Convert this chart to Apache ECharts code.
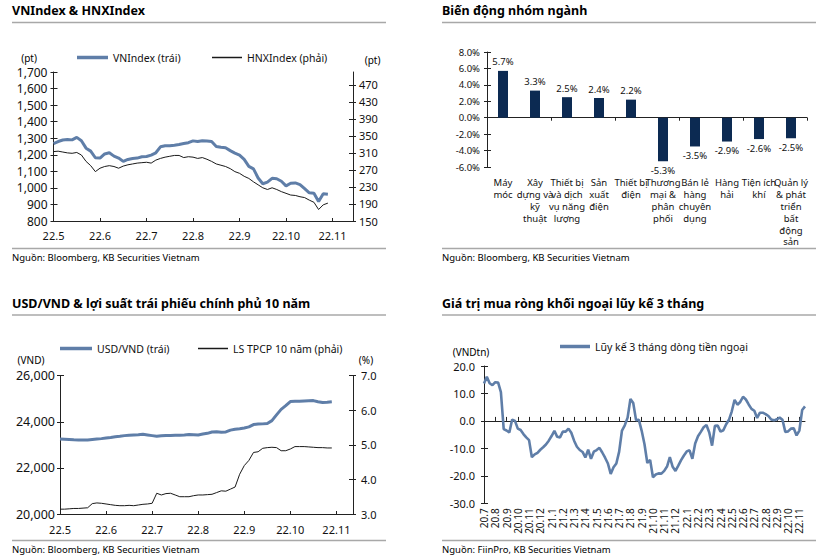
<!DOCTYPE html>
<html><head><meta charset="utf-8">
<script src="https://cdn.jsdelivr.net/npm/echarts@6/dist/echarts.min.js"></script>
<style>html,body{margin:0;padding:0;background:#fff}#c{width:821px;height:556px}</style>
</head><body><div id="c"></div>
<script>
// ---------- Panel 1: VNIndex & HNXIndex (samples every 0.1 month from 22.5) ----------
const p1MonthLabels = ['22.5','22.6','22.7','22.8','22.9','22.10','22.11'];
const p1RightTicks = [150,190,230,270,310,350,390,430,470];
const p1Step = 0.1;
const vnIndex = [1268,1280,1289,1292,1290,1305,1285,1240,1222,1182,
  1180,1205,1212,1192,1180,1160,1172,1178,1180,1188,
  1190,1198,1212,1248,1254,1255,1258,1262,1268,1273,
  1284,1280,1285,1283,1280,1250,1245,1242,1225,1210,
  1198,1172,1130,1115,1060,1025,1035,1058,1055,1040,
  1012,1028,1030,1020,995,970,968,918,965,962];
const hnxIndex = [313,314,312,310,309,311,305,290,280,266,
  274,278,280,278,274,279,282,284,286,287,
  288,286,293,297,300,302,304,304,299,301,
  300,297,299,295,290,284,281,278,273,266,
  262,255,250,242,235,228,224,228,224,219,
  215,211,210,207,205,199,194,177,188,192];

// ---------- Panel 2: sector performance ----------
const sectorCategories = ['Máy\nmóc','Xây\ndựng và\nkỹ\nthuật','Thiết bị\nvà dịch\nvụ năng\nlượng','Sản\nxuất\nđiện','Thiết bị\nđiện',
  'Thương\nmại &\nphân\nphối','Bán lẻ\nhàng\nchuyên\ndụng','Hàng\nhải','Tiện ích\nkhí','Quản lý\n& phát\ntriển\nbất\nđộng\nsản'];
const sectorChange = [5.7,3.3,2.5,2.4,2.2,-5.3,-3.5,-2.9,-2.6,-2.5];

// ---------- Panel 3: USD/VND & 10y government bond yield (every 0.1 month from 22.5) ----------
const p3MonthLabels = ['22.5','22.6','22.7','22.8','22.9','22.10','22.11'];
const p3Step = 0.1;
const usdVnd = [23250,23240,23230,23220,23215,23210,23210,23230,23250,23270,
  23300,23320,23350,23370,23400,23420,23430,23440,23460,23430,
  23400,23370,23390,23410,23410,23420,23420,23430,23450,23440,
  23430,23470,23500,23560,23570,23550,23560,23640,23680,23700,
  23730,23780,23880,23900,23910,23930,24050,24300,24540,24700,
  24880,24890,24890,24900,24910,24920,24870,24840,24850,24870];
const bond10y = [3.14,3.14,3.15,3.16,3.16,3.17,3.18,3.30,3.32,3.31,
  3.29,3.27,3.25,3.24,3.24,3.25,3.24,3.26,3.28,3.29,
  3.31,3.60,3.55,3.59,3.60,3.55,3.50,3.50,3.50,3.53,
  3.55,3.55,3.56,3.57,3.62,3.67,3.66,3.72,3.78,4.15,
  4.40,4.55,4.78,4.80,4.90,4.92,4.93,4.92,4.83,4.83,
  4.88,4.95,4.95,4.95,4.94,4.93,4.92,4.92,4.91,4.91];

// ---------- Panel 4: foreign net buying, 3-month cumulative (weekly from 20.7) ----------
const p4MonthLabels = ['20.7','20.8','20.9','20.10','20.11','20.12','21.1','21.2','21.3','21.4','21.5','21.6',
  '21.7','21.8','21.9','21.10','21.11','21.12','22.1','22.2','22.3','22.4','22.5','22.6','22.7','22.8','22.9','22.10','22.11'];
const p4Step = 0.25;
const foreignFlow3m = [13.6,16.1,13.7,13.0,14.1,14.0,10.5,-3.0,-3.5,-4.2,
  0.5,0.0,-2.8,-3.3,-4.8,-6.0,-7.0,-13.2,-12.2,-11.6,
  -10.5,-9.6,-8.6,-7.2,-5.5,-3.6,-5.8,-6.0,-3.9,-3.9,
  -2.8,-4.3,-7.2,-9.4,-10.6,-11.3,-13.3,-10.5,-13.8,-11.2,
  -10.6,-9.8,-11.5,-13.4,-15.5,-19.3,-16.9,-15.5,-11.2,-3.5,
  -1.6,1.2,8.0,6.5,0.3,0.4,-3.6,-8.5,-15.3,-14.2,
  -20.5,-19.5,-19.1,-19.2,-18.2,-16.6,-13.2,-16.7,-18.2,-16.3,
  -14.3,-12.6,-11.1,-10.7,-13.8,-8.2,-5.6,-4.0,-2.3,-1.5,
  -4.2,-9.0,-1.8,-1.7,-3.9,-3.4,-1.2,0.4,3.5,7.7,
  5.9,6.9,8.8,7.8,6.0,4.4,3.7,1.1,3.0,3.0,
  2.5,1.8,0.5,0.2,0.6,1.2,0.4,-4.0,-3.8,-2.8,
  -2.7,-5.3,-3.5,4.0,5.3];

// ---------- styling ----------
const FONT = 'Noto Sans';
const TXT = '#111';
const AX = '#222';
const BLUE = '#5f7ea8';
const DARK = '#1a1a1a';
const NAVY = '#0c2a52';
const SEP = '#a8a8a8';

const p1Ticks = p1MonthLabels.map((_, i) => i);
const p3Ticks = p3MonthLabels.map((_, i) => i);
const p4Ticks = p4MonthLabels.map((_, i) => i);
const tickStyle = {color: AX, width: 1};
const fmtThousands = v => v.toLocaleString('en-US');

const xAxes = [], yAxes = [];
function add(list, cfg) { list.push(cfg); return list.length - 1; }
function yAxisPair(gridIndex, position, min, max, interval, label, tickValues) {
  const base = {type: 'value', gridIndex, position, min, max, splitLine: {show: false}};
  if (interval != null) base.interval = interval;
  const main = Object.assign({}, base, {
    axisLine: {show: true, onZero: false, lineStyle: {color: AX, width: 1}},
    axisTick: {show: true, inside: true, length: 4, lineStyle: tickStyle},
    axisLabel: Object.assign({fontFamily: FONT, color: TXT}, label)
  });
  const dup = Object.assign({}, base, {
    axisLine: {show: false, onZero: false},
    axisTick: {show: true, inside: false, length: 3, lineStyle: tickStyle},
    axisLabel: {show: false}
  });
  if (tickValues) {
    main.axisTick.customValues = tickValues;
    main.axisLabel.customValues = tickValues;
    dup.axisTick.customValues = tickValues;
  }
  const idx = add(yAxes, main);
  add(yAxes, dup);
  return idx;
}
function monthAxis(gridIndex, max, labels, ticks, margin) {
  return {type: 'value', gridIndex, position: 'bottom', min: 0, max, splitLine: {show: false},
    axisLine: {show: true, onZero: false, lineStyle: {color: AX, width: 1}},
    axisTick: {show: true, inside: true, length: 3, lineStyle: tickStyle, customValues: ticks},
    axisLabel: {customValues: ticks, formatter: v => labels[Math.round(v)], fontFamily: FONT, fontSize: 11, color: TXT, margin}};
}

const grids = [
  {left: 53.5, top: 72, width: 299.5, height: 149},
  {left: 487, top: 52, width: 320, height: 115},
  {left: 60, top: 375.7, width: 293, height: 138.3},
  {left: 484, top: 366, width: 321, height: 137.3}
].map(g => Object.assign({containLabel: false, outerBoundsMode: 'none'}, g));

// panel 1 axes
const x1 = add(xAxes, monthAxis(0, 6.44, p1MonthLabels, p1Ticks, 9));
const y1L = yAxisPair(0, 'left', 800, 1700, 100, {fontSize: 12, margin: 6, formatter: fmtThousands});
const y1R = yAxisPair(0, 'right', 150, 500, null, {fontSize: 11, margin: 6}, p1RightTicks);
// panel 2 axes
const x2lab = add(xAxes, {type: 'category', gridIndex: 1, position: 'bottom', data: sectorCategories,
  axisLine: {show: false, onZero: false}, axisTick: {show: false},
  axisLabel: {interval: 0, fontFamily: FONT, fontSize: 9.5, lineHeight: 11.8, margin: 10, color: TXT}});
add(xAxes, {type: 'category', gridIndex: 1, position: 'bottom', data: sectorCategories,
  axisLine: {show: true, onZero: true, lineStyle: {color: AX, width: 1}},
  axisTick: {show: true, length: 3, lineStyle: tickStyle}, axisLabel: {show: false}});
const y2 = yAxisPair(1, 'left', -6, 8, 2, {fontSize: 9.5, margin: 7, formatter: v => v.toFixed(1) + '%'});
// panel 3 axes
const x3 = add(xAxes, monthAxis(2, 6.36, p3MonthLabels, p3Ticks, 10));
const y3L = yAxisPair(2, 'left', 20000, 26000, 2000, {fontSize: 12.5, margin: 5, formatter: fmtThousands});
const y3R = yAxisPair(2, 'right', 3, 7, 1, {fontSize: 11, margin: 8, formatter: v => v.toFixed(1)});
// panel 4 axes
const x4lab = add(xAxes, {type: 'value', gridIndex: 3, position: 'bottom', min: 0, max: 28.5, splitLine: {show: false},
  axisLine: {show: false, onZero: false}, axisTick: {show: false},
  axisLabel: {customValues: p4Ticks, formatter: v => p4MonthLabels[Math.round(v)], rotate: 90,
    fontFamily: FONT, fontSize: 10, color: TXT, margin: 5}});
add(xAxes, {type: 'value', gridIndex: 3, position: 'bottom', min: 0, max: 28.5, splitLine: {show: false},
  axisLine: {show: true, onZero: true, lineStyle: {color: AX, width: 1}},
  axisTick: {show: true, inside: true, length: 4, lineStyle: tickStyle, customValues: p4Ticks},
  axisLabel: {show: false}});
const y4 = yAxisPair(3, 'left', -30, 20, 10, {fontSize: 11, margin: 9, formatter: v => v.toFixed(1)});

function lineSeries(name, xi, yi, values, step, color, width, z) {
  return {type: 'line', name, xAxisIndex: xi, yAxisIndex: yi, data: values.map((v, i) => [i * step, v]),
    showSymbol: false, symbol: 'none', lineStyle: {color, width}, itemStyle: {color}, z, animation: false};
}

const legendBase = {padding: 0, selectedMode: false, textStyle: {fontFamily: FONT, fontSize: 10.5, color: TXT}};
function legend(name, left, top, w, h) {
  return Object.assign({}, legendBase, {data: [{name, icon: 'rect'}], left, top, itemWidth: w, itemHeight: h});
}

const titleFont = 'bold 12.5px "Noto Sans"';
const srcFont = '9.5px "Noto Sans"';
const unitFont = '10px "Noto Sans"';
function txt(text, x, y, font, align) {
  return {type: 'text', x, y, silent: true, style: {text, font, fill: '#000', align: align || 'left', verticalAlign: 'middle',
    textAlign: align || 'left', textVerticalAlign: 'middle'}};
}
function hline(x1, x2, y) {
  return {type: 'line', silent: true, shape: {x1, y1: y, x2, y2: y}, style: {stroke: SEP, lineWidth: 1.3}};
}

const option = {
  animation: false,
  backgroundColor: '#fff',
  grid: grids,
  xAxis: xAxes,
  yAxis: yAxes,
  legend: [
    legend('VNIndex (trái)', 77, 52, 31, 3.5),
    legend('HNXIndex (phải)', 212, 52, 30, 1.5),
    legend('USD/VND (trái)', 60, 343, 32, 3.5),
    legend('LS TPCP 10 năm (phải)', 198, 343, 30, 1.5),
    legend('Lũy kế 3 tháng dòng tiền ngoại', 560, 341, 30, 3.5)
  ],
  series: [
    lineSeries('VNIndex (trái)', x1, y1L, vnIndex, p1Step, BLUE, 3, 2),
    lineSeries('HNXIndex (phải)', x1, y1R, hnxIndex, p1Step, DARK, 1, 3),
    {type: 'bar', name: 'Biến động', xAxisIndex: x2lab, yAxisIndex: y2, data: sectorChange, barWidth: 10,
      itemStyle: {color: NAVY},
      label: {show: true, position: 'outside', distance: 4, formatter: p => p.value.toFixed(1) + '%',
        fontFamily: FONT, fontSize: 9.5, color: TXT}},
    lineSeries('USD/VND (trái)', x3, y3L, usdVnd, p3Step, BLUE, 3, 2),
    lineSeries('LS TPCP 10 năm (phải)', x3, y3R, bond10y, p3Step, DARK, 1, 3),
    lineSeries('Lũy kế 3 tháng dòng tiền ngoại', x4lab, y4, foreignFlow3m, p4Step, BLUE, 2.6, 2)
  ],
  graphic: {elements: [
    txt('VNIndex & HNXIndex', 12, 10.5, titleFont),
    txt('Biến động nhóm ngành', 442, 10.5, titleFont),
    txt('USD/VND & lợi suất trái phiếu chính phủ 10 năm', 12, 303.3, titleFont),
    txt('Giá trị mua ròng khối ngoại lũy kế 3 tháng', 442, 303.3, titleFont),
    hline(12, 386, 22.5), hline(442, 816, 22.5), hline(12, 386, 315), hline(442, 816, 315),
    hline(12, 386, 248.5), hline(442, 816, 248.5), hline(12, 386, 540.5), hline(442, 816, 540.5),
    txt('Nguồn: Bloomberg, KB Securities Vietnam', 12, 257, srcFont),
    txt('Nguồn: Bloomberg, KB Securities Vietnam', 442, 257, srcFont),
    txt('Nguồn: Bloomberg, KB Securities Vietnam', 12, 549, srcFont),
    txt('Nguồn: FiinPro, KB Securities Vietnam', 442, 549, srcFont),
    txt('(pt)', 29, 57.5, unitFont, 'center'),
    txt('(pt)', 372.5, 59.5, unitFont, 'center'),
    txt('(VND)', 31, 360, unitFont, 'center'),
    txt('(%)', 366, 360, unitFont, 'center'),
    txt('(VNDtn)', 471, 352, unitFont, 'center')
  ]}
};

const chart = echarts.init(document.getElementById('c'), null, {renderer: 'svg', width: 821, height: 556});
chart.setOption(option);
</script>
</body></html>
